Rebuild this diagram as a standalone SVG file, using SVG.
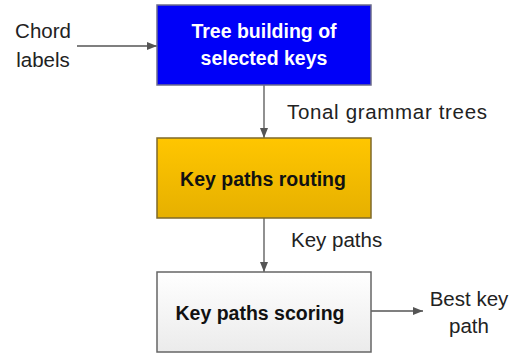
<svg xmlns="http://www.w3.org/2000/svg" width="517" height="354" viewBox="0 0 517 354">
<defs>
<linearGradient id="gGold" x1="0" y1="0" x2="0" y2="1">
<stop offset="0" stop-color="#FFC600"/><stop offset="1" stop-color="#E6B000"/>
</linearGradient>
<linearGradient id="gGray" x1="0" y1="0" x2="0" y2="1">
<stop offset="0" stop-color="#FFFFFF"/><stop offset="1" stop-color="#EBEBEB"/>
</linearGradient>
<marker id="arr" viewBox="0 0 10 10" refX="10" refY="5" markerWidth="10" markerHeight="10" markerUnits="userSpaceOnUse" orient="auto">
<path d="M0,1 L10,5 L0,9 z" fill="#555555"/>
</marker>
<style>
.box{stroke-width:1.5}
.t{font-family:"Liberation Sans",Arial,sans-serif;font-size:19.5px;text-anchor:middle;font-weight:bold}
.lbl{font-family:"Liberation Sans",Arial,sans-serif;font-size:20.5px;fill:#222}
.c{stroke:#555555;stroke-width:1.3;fill:none;marker-end:url(#arr)}
</style>
</defs>
<rect width="517" height="354" fill="#FFFFFF"/>
<g id="connectors">
<path class="c" d="M77,46 H157"/>
<path class="c" d="M264,85 V138"/>
<path class="c" d="M264,218 V272"/>
<path class="c" d="M371,311 H423"/>
</g>
<g id="tree-building">
<rect class="box" x="157" y="5" width="214" height="80" fill="#0000F8" stroke="#6C6C8C"/>
<text class="t" x="264" y="38" fill="#FFFFFF">Tree building of</text>
<text class="t" x="264" y="65" fill="#FFFFFF">selected keys</text>
</g>
<g id="key-paths-routing">
<rect class="box" x="157" y="138" width="214" height="80" fill="url(#gGold)" stroke="#7F6A2A"/>
<text class="t" x="263" y="186" fill="#111111">Key paths routing</text>
</g>
<g id="key-paths-scoring">
<rect class="box" x="157" y="272" width="214" height="80" fill="url(#gGray)" stroke="#666666"/>
<text class="t" x="260" y="320" fill="#111111">Key paths scoring</text>
</g>
<g id="labels">
<text class="lbl" x="43" y="38" text-anchor="middle">Chord</text>
<text class="lbl" x="43" y="67" text-anchor="middle">labels</text>
<text class="lbl" x="287" y="119" textLength="200" lengthAdjust="spacing">Tonal grammar trees</text>
<text class="lbl" x="291" y="247">Key paths</text>
<text class="lbl" x="469" y="306" text-anchor="middle">Best key</text>
<text class="lbl" x="469" y="333" text-anchor="middle">path</text>
</g>
</svg>
